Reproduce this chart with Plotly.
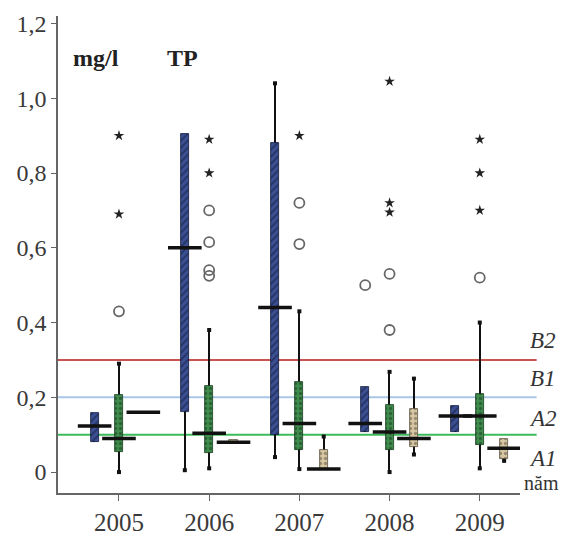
import plotly.graph_objects as go

# ---------------- data ----------------
years = [2005, 2006, 2007, 2008, 2009]
year_labels = ["2005", "2006", "2007", "2008", "2009"]

# group A (blue, hatched)
a_lo  = [0.080, 0.005, 0.040, 0.107, 0.107]
a_q1  = [0.080, 0.160, 0.100, 0.107, 0.107]
a_med = [0.123, 0.600, 0.440, 0.130, 0.150]
a_q3  = [0.158, 0.905, 0.880, 0.228, 0.178]
a_hi  = [0.158, 0.905, 1.040, 0.228, 0.178]

# group B (green, dotted)
b_lo  = [0.000, 0.010, 0.008, 0.000, 0.010]
b_q1  = [0.053, 0.050, 0.060, 0.060, 0.072]
b_med = [0.090, 0.104, 0.130, 0.107, 0.150]
b_q3  = [0.206, 0.230, 0.240, 0.180, 0.210]
b_hi  = [0.290, 0.380, 0.430, 0.268, 0.400]

# group C (beige)
c_lo  = [0.160, 0.080, 0.008, 0.047, 0.030]
c_q1  = [0.160, 0.080, 0.008, 0.067, 0.035]
c_med = [0.160, 0.080, 0.008, 0.090, 0.064]
c_q3  = [0.160, 0.086, 0.060, 0.170, 0.088]
c_hi  = [0.160, 0.086, 0.095, 0.250, 0.088]

# outliers: year, group index (0=A, 1=B, 2=C), value
circle_years  = [2005, 2006, 2006, 2006, 2006, 2007, 2007, 2008, 2008, 2008, 2009]
circle_groups = [1, 1, 1, 1, 1, 1, 1, 0, 1, 1, 1]
circle_values = [0.43, 0.70, 0.615, 0.540, 0.525, 0.72, 0.61, 0.50, 0.53, 0.38, 0.52]

star_years  = [2005, 2005, 2006, 2006, 2007, 2008, 2008, 2008, 2009, 2009, 2009]
star_groups = [1, 1, 1, 1, 1, 1, 1, 1, 1, 1, 1]
star_values = [0.90, 0.69, 0.89, 0.80, 0.90, 1.045, 0.72, 0.695, 0.89, 0.80, 0.70]

# quality thresholds
thresholds = [0.3, 0.2, 0.1]
threshold_colors = ["#c9544f", "#a8c6e6", "#3dbb5a"]
class_labels = ["B2", "B1", "A2", "A1"]
class_label_values = [0.353, 0.250, 0.142, 0.037]

y_tickvals = [0, 0.2, 0.4, 0.6, 0.8, 1.0, 1.2]
y_ticktext = ["0", "0,2", "0,4", "0,6", "0,8", "1,0", "1,2"]

# ---------------- styling ----------------
offsets = [-0.27, 0.0, 0.27]
box_w = 0.09
whisk_w = 0.016
SERIF = "Liberation Serif"

groups = [
    dict(lo=a_lo, q1=a_q1, med=a_med, q3=a_q3, hi=a_hi,
         bg="#3b4f92", fg="#0f1838", shape="/"),
    dict(lo=b_lo, q1=b_q1, med=b_med, q3=b_q3, hi=b_hi,
         bg="#3f8c4c", fg="#163a1d", shape="."),
    dict(lo=c_lo, q1=c_q1, med=c_med, q3=c_q3, hi=c_hi,
         bg="#d7c7a3", fg="#5a5040", shape="."),
]

fig = go.Figure()

# whiskers (thin black bars)
for gi, g in enumerate(groups):
    xs = [y + offsets[gi] for y in years]
    fig.add_trace(go.Bar(
        x=xs, base=g["lo"], y=[h - l for h, l in zip(g["hi"], g["lo"])],
        width=whisk_w, marker=dict(color="#111111", line=dict(width=0)),
        showlegend=False, hoverinfo="skip"))

# boxes
for gi, g in enumerate(groups):
    xs = [y + offsets[gi] for y in years]
    fig.add_trace(go.Bar(
        x=xs, base=g["q1"], y=[q3 - q1 for q3, q1 in zip(g["q3"], g["q1"])],
        width=box_w,
        marker=dict(color=g["bg"], line=dict(color=g["fg"], width=0.8),
                    pattern=dict(shape=g["shape"], fgcolor=g["fg"],
                                 bgcolor=g["bg"], size=5, solidity=0.35)),
        showlegend=False, hoverinfo="skip"))

# whisker end caps
cap_x, cap_y = [], []
for gi, g in enumerate(groups):
    for i, y in enumerate(years):
        if g["lo"][i] < g["q1"][i]:
            cap_x.append(y + offsets[gi]); cap_y.append(g["lo"][i])
        if g["hi"][i] > g["q3"][i]:
            cap_x.append(y + offsets[gi]); cap_y.append(g["hi"][i])
fig.add_trace(go.Scatter(
    x=cap_x, y=cap_y, mode="markers",
    marker=dict(symbol="square", size=4, color="#111111"),
    showlegend=False, hoverinfo="skip"))

# medians
med_x, med_y = [], []
for gi, g in enumerate(groups):
    for i, y in enumerate(years):
        med_x.append(y + offsets[gi]); med_y.append(g["med"][i])
fig.add_trace(go.Scatter(
    x=med_x, y=med_y, mode="markers",
    marker=dict(symbol="line-ew", size=24,
                line=dict(color="#111111", width=3.5)),
    showlegend=False, hoverinfo="skip"))

# outliers
fig.add_trace(go.Scatter(
    x=[y + offsets[g] for y, g in zip(circle_years, circle_groups)],
    y=circle_values, mode="markers",
    marker=dict(symbol="circle-open", size=10, color="#666666",
                line=dict(color="#666666", width=1.8)),
    showlegend=False, hoverinfo="skip"))
fig.add_trace(go.Scatter(
    x=[y + offsets[g] for y, g in zip(star_years, star_groups)],
    y=star_values, mode="markers",
    marker=dict(symbol="star", size=8, color="#222222"),
    showlegend=False, hoverinfo="skip"))

# threshold lines
for t, c in zip(thresholds, threshold_colors):
    fig.add_shape(type="line", xref="paper", yref="y",
                  x0=0, x1=1.036, y0=t, y1=t,
                  line=dict(color=c, width=2), layer="below")

# class labels
for lab, v in zip(class_labels, class_label_values):
    fig.add_annotation(text="<i>%s</i>" % lab, xref="paper", yref="y",
                       x=1.05, y=v, showarrow=False,
                       xanchor="center", yanchor="middle",
                       font=dict(family=SERIF, size=23, color="#333333"))
fig.add_annotation(text="năm", xref="paper", yref="y", x=1.047, y=-0.03,
                   showarrow=False, xanchor="center", yanchor="middle",
                   font=dict(family=SERIF, size=20, color="#333333"))
fig.add_annotation(text="<b>mg/l</b>", xref="paper", yref="y", x=0.082, y=1.107,
                   showarrow=False, xanchor="center", yanchor="middle",
                   font=dict(family=SERIF, size=24, color="#222222"))
fig.add_annotation(text="<b>TP</b>", xref="paper", yref="y", x=0.27, y=1.107,
                   showarrow=False, xanchor="center", yanchor="middle",
                   font=dict(family=SERIF, size=24, color="#222222"))

fig.update_layout(
    width=568, height=534,
    margin=dict(l=50, r=56, t=8, b=49, autoexpand=False),
    paper_bgcolor="white", plot_bgcolor="white",
    barmode="overlay", bargap=0,
    showlegend=False,
    xaxis=dict(range=[2004.324, 2009.446], tickvals=years, ticktext=year_labels,
               showgrid=False, zeroline=False, showline=True, automargin=False,
               linecolor="#666666", linewidth=1.5,
               ticks="outside", ticklen=6, tickcolor="#666666",
               tickfont=dict(family=SERIF, size=25, color="#3a3a3a")),
    yaxis=dict(range=[-0.056, 1.22], tickvals=y_tickvals, ticktext=y_ticktext,
               showgrid=False, zeroline=False, showline=True, automargin=False,
               linecolor="#666666", linewidth=1.5,
               ticks="outside", ticklen=5, tickcolor="#666666",
               tickfont=dict(family=SERIF, size=24, color="#3a3a3a")),
)

fig.write_html("out.html")
